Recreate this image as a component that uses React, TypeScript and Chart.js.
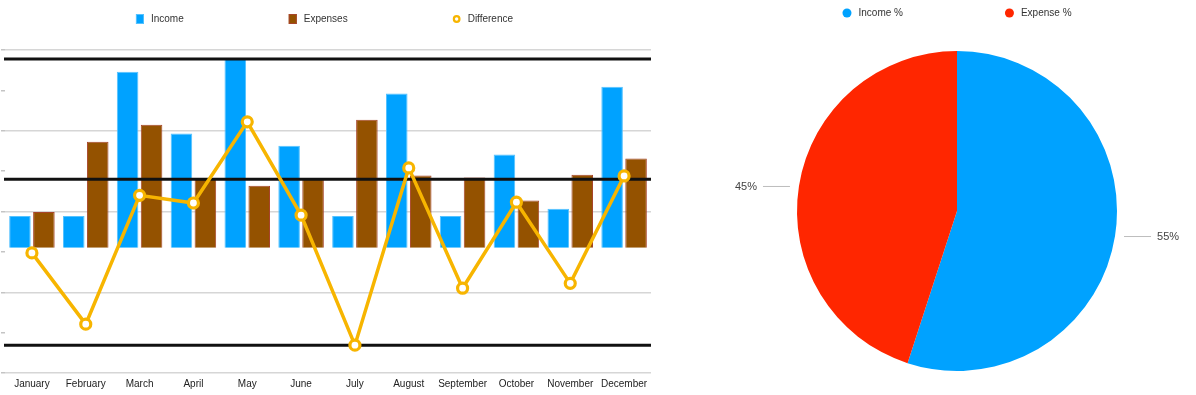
import React, { useEffect, useRef } from 'react';
import { Chart, registerables } from 'chart.js';

Chart.register(...registerables);

const FONT = '"Liberation Sans", Arial, Helvetica, sans-serif';

// ---------- Data ----------
const months = [
  'January', 'February', 'March', 'April', 'May', 'June',
  'July', 'August', 'September', 'October', 'November', 'December',
];
const income = [790, 790, 4360, 2830, 4690, 2530, 790, 3820, 790, 2310, 970, 3990];
const expenses = [890, 2630, 3050, 1710, 1540, 1710, 3170, 1790, 1740, 1170, 1810, 2210];
const difference = [-25, -1790, 1400, 1210, 3220, 910, -2310, 2080, -900, 1230, -780, 1880];
const referenceLines = [4780, 1800, -2310];

const lineAxisMin = -3000;
const lineAxisMax = 5000;
const barAxisMin = -3100;
const barAxisMax = 4900;
const axisStep = 1000;

const pieLabels = ['Income %', 'Expense %'];
const pieValues = [55, 45];

// ---------- Colours ----------
const BLUE = '#00a2ff';
const BLUE_EDGE = '#55c2ff';
const BROWN = '#945200';
const BROWN_EDGE = '#a8452a';
const AMBER = '#f7b500';
const RED = '#ff2600';
const GRID = '#d6d6d6';

type Marker = 'rect' | 'ring' | 'dot';

const customLegend = {
  id: 'customLegend',
  afterDraw(chart: any, _args: any, opts: any) {
    const items: { text: string; fill: string; stroke: string; marker: Marker }[] = opts.getItems(chart);
    const { ctx } = chart;
    ctx.save();
    ctx.font = `${opts.fontSize}px ${FONT}`;
    const widths = items.map((it) => opts.markerW + opts.gap + ctx.measureText(it.text).width);
    const total = widths.reduce((a: number, b: number) => a + b, 0) + opts.spacing * (items.length - 1);
    let x = (chart.width - total) / 2 + (opts.offsetX || 0);
    const y = opts.y;
    items.forEach((it, i) => {
      if (it.marker === 'rect') {
        ctx.fillStyle = it.fill;
        ctx.fillRect(x, y - opts.markerH / 2, opts.markerW, opts.markerH);
        ctx.strokeStyle = it.stroke;
        ctx.lineWidth = 1;
        ctx.strokeRect(x + 0.5, y - opts.markerH / 2 + 0.5, opts.markerW - 1, opts.markerH - 1);
      } else if (it.marker === 'ring') {
        ctx.beginPath();
        ctx.arc(x + opts.markerW / 2, y, opts.markerW / 2 - 1.2, 0, Math.PI * 2);
        ctx.fillStyle = '#ffffff';
        ctx.fill();
        ctx.lineWidth = 2.2;
        ctx.strokeStyle = it.stroke;
        ctx.stroke();
      } else {
        ctx.beginPath();
        ctx.arc(x + opts.markerW / 2, y, opts.markerW / 2, 0, Math.PI * 2);
        ctx.fillStyle = it.fill;
        ctx.fill();
      }
      ctx.fillStyle = '#333333';
      ctx.textAlign = 'left';
      ctx.textBaseline = 'middle';
      ctx.fillText(it.text, x + opts.markerW + opts.gap, y + 0.5);
      x += widths[i] + opts.spacing;
    });
    ctx.restore();
  },
};

const refLinesPlugin = {
  id: 'refLines',
  beforeDatasetDraw(chart: any, args: any, opts: any) {
    if (args.meta.type !== 'line') return;
    const { ctx, chartArea } = chart;
    const scale = chart.scales.y;
    ctx.save();
    ctx.strokeStyle = '#111111';
    ctx.lineWidth = 3;
    (opts.values as number[]).forEach((v) => {
      const py = scale.getPixelForValue(v);
      ctx.beginPath();
      ctx.moveTo(chartArea.left - 1, py);
      ctx.lineTo(chartArea.right, py);
      ctx.stroke();
    });
    ctx.restore();
  },
};

const pieLabelPlugin = {
  id: 'pieLabels',
  afterDatasetsDraw(chart: any) {
    const meta = chart.getDatasetMeta(0);
    const { ctx } = chart;
    const values = chart.data.datasets[0].data as number[];
    ctx.save();
    ctx.font = `11px ${FONT}`;
    ctx.textBaseline = 'middle';
    meta.data.forEach((arc: any, i: number) => {
      const p = arc.getProps(['x', 'y', 'startAngle', 'endAngle', 'outerRadius'], true);
      const mid = (p.startAngle + p.endAngle) / 2;
      const px = p.x + Math.cos(mid) * p.outerRadius;
      const py = p.y + Math.sin(mid) * p.outerRadius;
      const dir = Math.cos(mid) >= 0 ? 1 : -1;
      ctx.strokeStyle = '#bdbdbd';
      ctx.lineWidth = 1;
      ctx.beginPath();
      ctx.moveTo(px + dir * 9, py + 0.5);
      ctx.lineTo(px + dir * 36, py + 0.5);
      ctx.stroke();
      ctx.fillStyle = '#444444';
      ctx.textAlign = dir > 0 ? 'left' : 'right';
      ctx.fillText(`${values[i]}%`, px + dir * 42, py + 1);
    });
    ctx.restore();
  },
};

function ComboChart() {
  const ref = useRef<HTMLCanvasElement>(null);
  useEffect(() => {
    if (!ref.current) return;
    const chart = new Chart(ref.current, {
      type: 'bar',
      data: {
        labels: months,
        datasets: [
          {
            type: 'line',
            label: 'Difference',
            data: difference,
            yAxisID: 'y',
            order: 0,
            borderColor: AMBER,
            backgroundColor: AMBER,
            borderWidth: 3.5,
            pointRadius: 5,
            pointBorderWidth: 3.2,
            pointBackgroundColor: '#ffffff',
            pointBorderColor: AMBER,
            tension: 0,
            clip: false as any,
          } as any,
          {
            type: 'bar',
            label: 'Income',
            data: income,
            yAxisID: 'yb',
            order: 1,
            backgroundColor: BLUE,
            borderColor: BLUE_EDGE,
            borderWidth: 1,
            categoryPercentage: 0.89,
            barPercentage: 0.9,
          },
          {
            type: 'bar',
            label: 'Expenses',
            data: expenses,
            yAxisID: 'yb',
            order: 1,
            backgroundColor: BROWN,
            borderColor: BROWN_EDGE,
            borderWidth: 1,
            categoryPercentage: 0.89,
            barPercentage: 0.9,
          },
        ],
      },
      options: {
        animation: false,
        responsive: true,
        maintainAspectRatio: false,
        events: [],
        layout: { autoPadding: false, padding: { top: 50, left: 1, right: 4, bottom: 0 } },
        plugins: {
          legend: { display: false },
          tooltip: { enabled: false },
          customLegend: {
            y: 19,
            fontSize: 10,
            markerW: 8,
            markerH: 10,
            gap: 7,
            spacing: 105,
            offsetX: -3,
            getItems: (c: any) => {
              const ds = c.data.datasets;
              const order = [1, 2, 0];
              return order.map((k) => ({
                text: ds[k].label,
                fill: ds[k].backgroundColor,
                stroke: ds[k].borderColor,
                marker: ds[k].type === 'line' ? 'ring' : 'rect',
              }));
            },
          },
          refLines: { values: referenceLines },
        } as any,
        scales: {
          x: {
            grid: { display: false, drawTicks: false },
            border: { display: false },
            ticks: {
              color: '#222222',
              font: { size: 10, family: FONT },
              padding: 5,
              maxRotation: 0,
              autoSkip: false,
            },
          },
          y: {
            position: 'left',
            min: lineAxisMin,
            max: lineAxisMax,
            ticks: { display: false, stepSize: axisStep },
            border: { display: false },
            grid: {
              color: (c: any) =>
                c.tick && Math.abs(Math.round(c.tick.value / axisStep)) % 2 === 1 ? GRID : 'rgba(0,0,0,0)',
              lineWidth: 1.5,
              tickColor: '#c4c4c4',
              tickLength: 4,
              tickWidth: 1.5,
              drawTicks: true,
            },
          },
          yb: {
            position: 'left',
            min: barAxisMin,
            max: barAxisMax,
            ticks: { display: false, stepSize: axisStep },
            border: { display: false },
            grid: {
              drawTicks: false,
              color: (c: any) => (c.tick && c.tick.value === 0 ? GRID : 'rgba(0,0,0,0)'),
              lineWidth: 1.5,
            },
          },
        },
      },
      plugins: [customLegend, refLinesPlugin],
    });
    return () => chart.destroy();
  }, []);
  return (
    <div style={{ position: 'absolute', left: 0, top: 0, width: 655, height: 395 }}>
      <canvas ref={ref} />
    </div>
  );
}

function PieChart() {
  const ref = useRef<HTMLCanvasElement>(null);
  useEffect(() => {
    if (!ref.current) return;
    const chart = new Chart(ref.current, {
      type: 'pie',
      data: {
        labels: pieLabels,
        datasets: [
          {
            data: pieValues,
            backgroundColor: [BLUE, RED],
            borderWidth: 0,
          },
        ],
      },
      options: {
        animation: false,
        responsive: true,
        maintainAspectRatio: false,
        events: [],
        layout: { padding: { top: 51, bottom: 24 } },
        plugins: {
          legend: { display: false },
          tooltip: { enabled: false },
          customLegend: {
            y: 13,
            fontSize: 10,
            markerW: 9,
            markerH: 9,
            gap: 7,
            spacing: 102,
            offsetX: 0,
            getItems: (c: any) =>
              (c.data.labels as string[]).map((l, i) => ({
                text: l,
                fill: c.data.datasets[0].backgroundColor[i],
                stroke: c.data.datasets[0].backgroundColor[i],
                marker: 'dot',
              })),
          },
        } as any,
      },
      plugins: [customLegend, pieLabelPlugin],
    });
    return () => chart.destroy();
  }, []);
  return (
    <div style={{ position: 'absolute', left: 718, top: 0, width: 478, height: 395 }}>
      <canvas ref={ref} />
    </div>
  );
}

export default function App() {
  Chart.defaults.font.family = FONT;
  return (
    <div style={{ position: 'absolute', left: 0, top: 0, width: 1196, height: 395, background: '#ffffff' }}>
      <ComboChart />
      <PieChart />
    </div>
  );
}
